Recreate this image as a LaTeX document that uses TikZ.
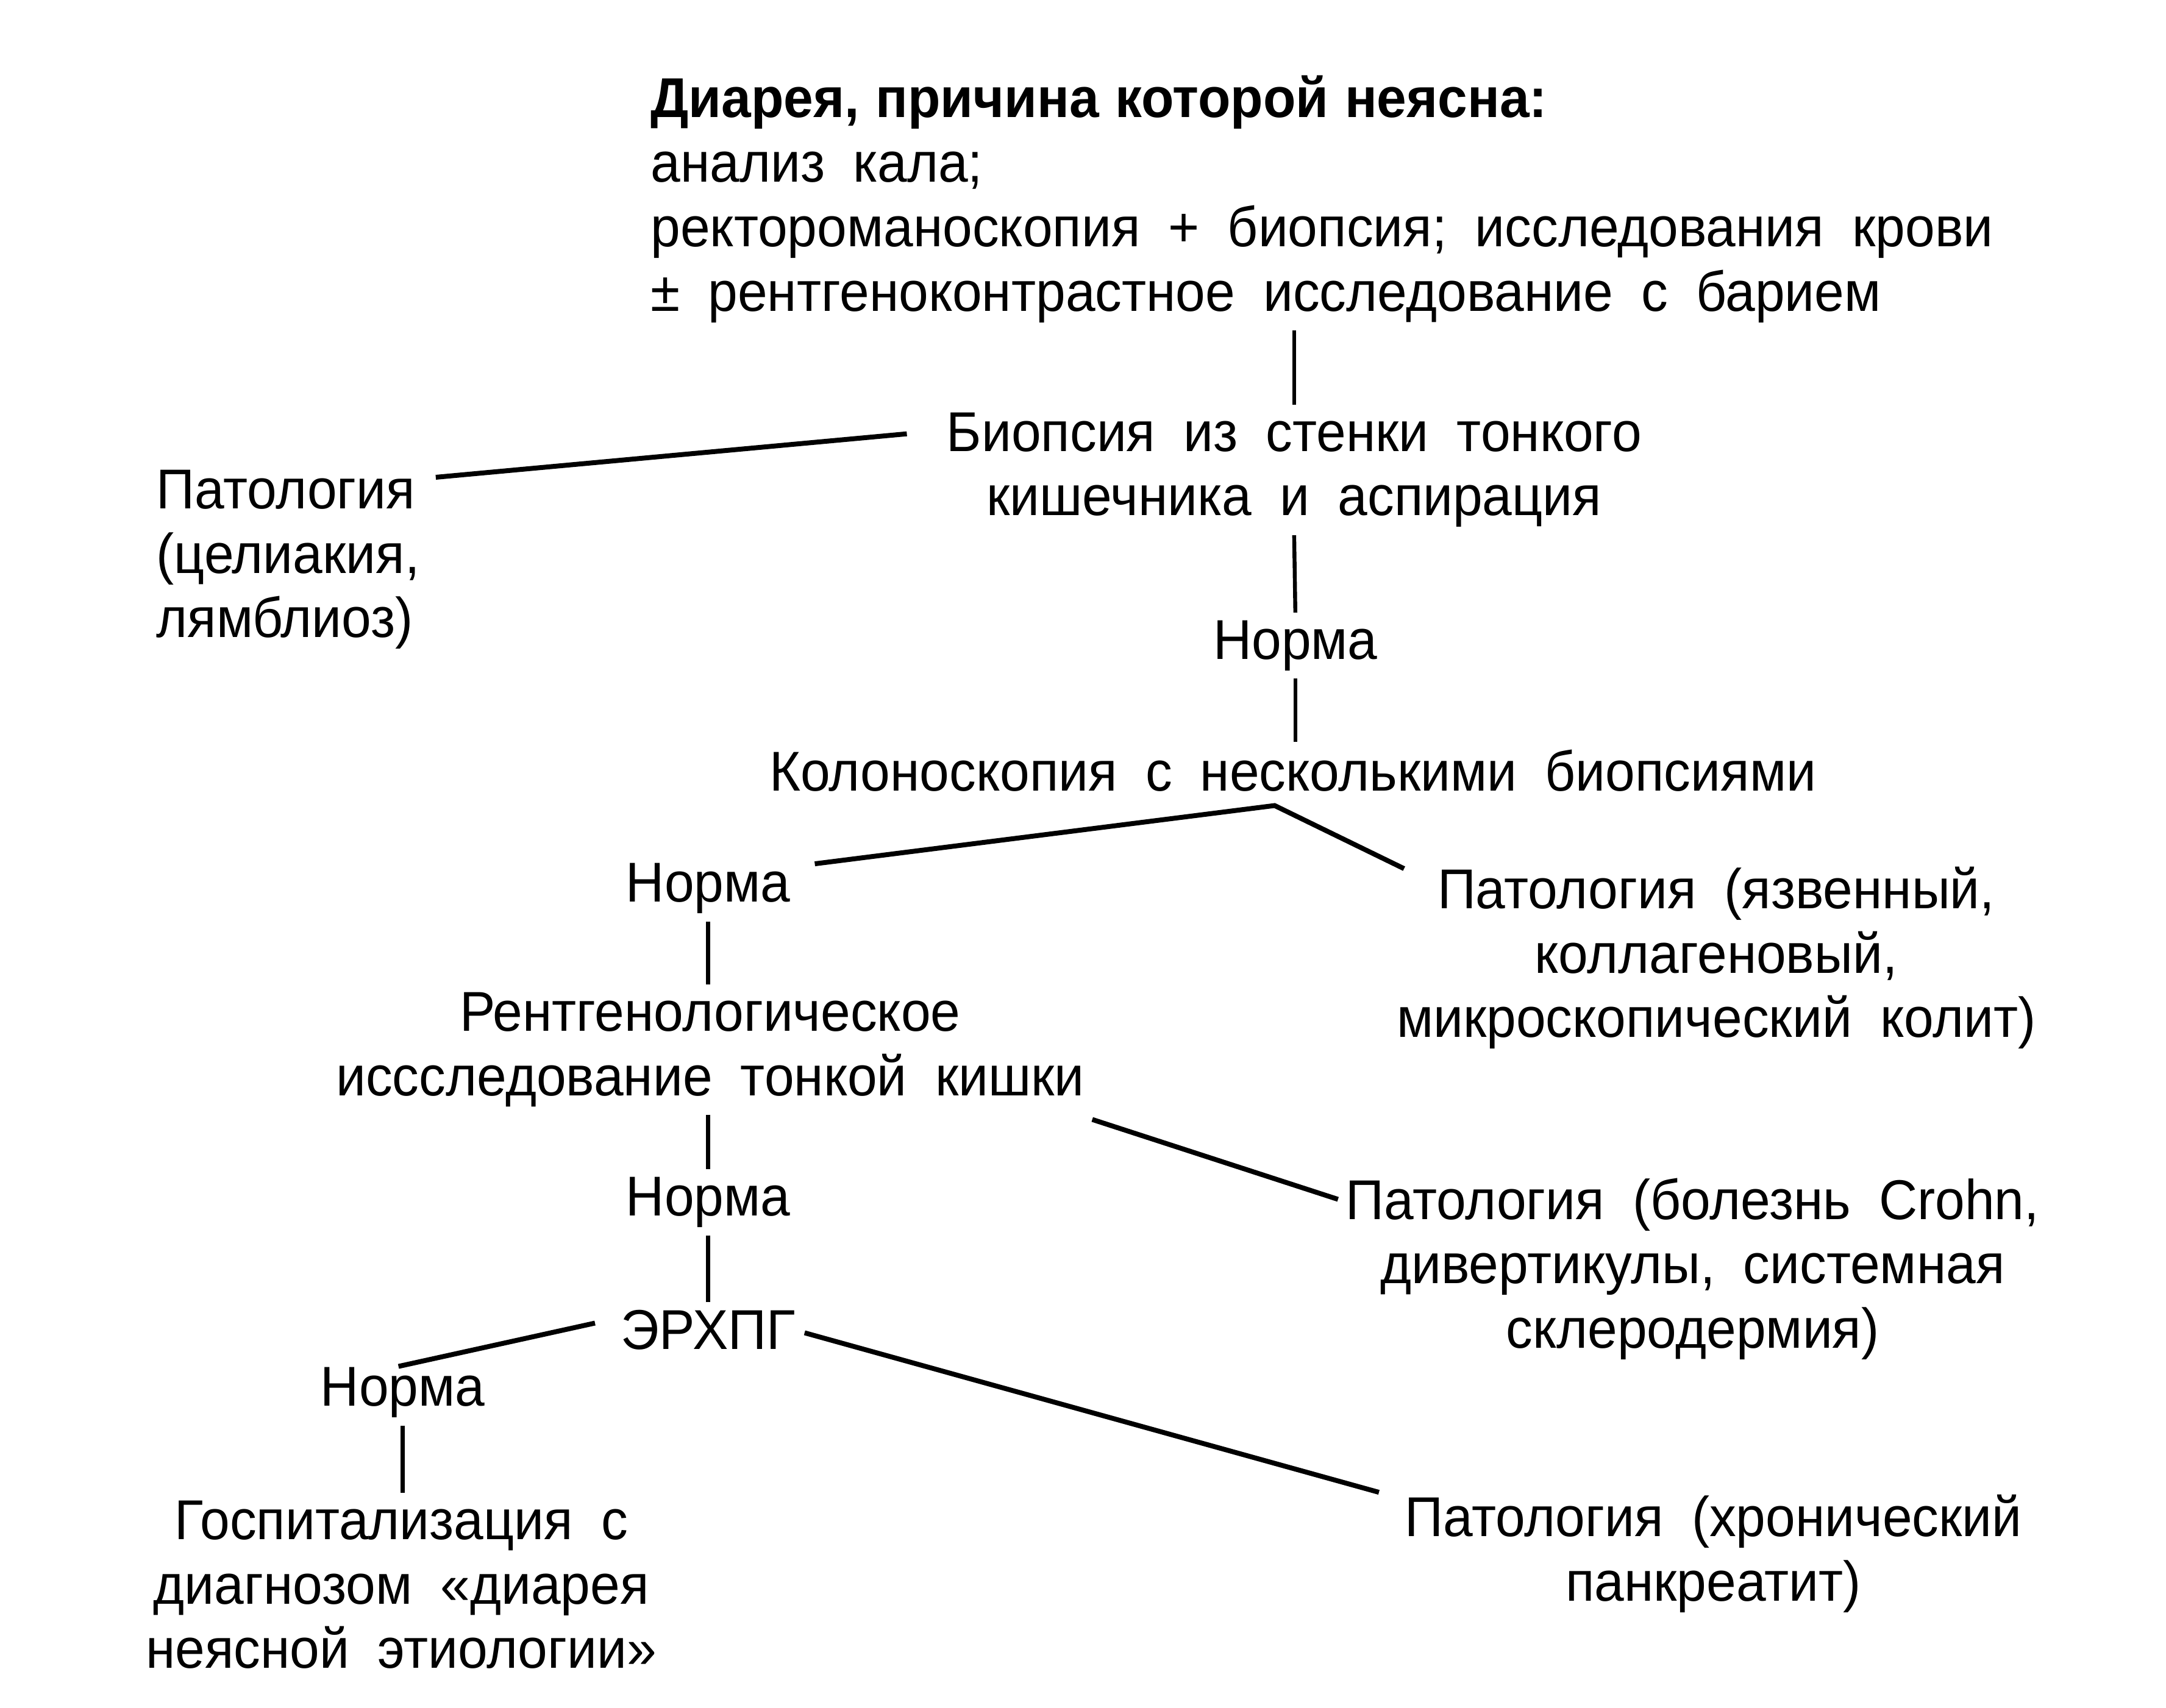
\documentclass[tikz,border=0pt]{standalone}
\usepackage{fontspec}
\setmainfont{Liberation Sans}[FakeStretch=0.95, WordSpace=1.9, BoldFeatures={WordSpace=1.1}]

\begin{document}
\begin{tikzpicture}[x=0.01cm, y=-0.01cm,
  every node/.style={inner sep=0pt, align=center, font=\fontsize{11.5}{13.2}\selectfont},
  link/.style={line width=1pt},
  vlink/.style={line width=0.8pt, shorten <=0.05cm, shorten >=0.05cm}]
\useasboundingbox (0,0) rectangle (1560,1230);

% main column
\node[anchor=west, align=left] (title) at (468,143.5) {\textbf{Диарея, причина которой неясна:}\\анализ кала;\\ректороманоскопия + биопсия; исследования крови\\± рентгеноконтрастное исследование с барием};
\node (biop) at (932,338.5) {Биопсия из стенки тонкого\\кишечника и аспирация};
\node[anchor=west, align=left] (pat1) at (112,403) {Патология\\(целиакия,\\лямблиоз)};
\node (norm1) at (933,465) {Норма};
\node (kolo) at (931,555) {Колоноскопия с несколькими биопсиями};
\node (norm2) at (510,640) {Норма};
\node (pat2) at (1236,690) {Патология (язвенный,\\коллагеновый,\\микроскопический колит)};
\node (rent) at (511.5,756) {Рентгенологическое\\иссследование тонкой кишки};
\node (norm3) at (510,866) {Норма};
\node (pat3) at (1219,914) {Патология (болезнь Crohn,\\дивертикулы, системная\\склеродермия)};
\node (erhpg) at (510,958) {ЭРХПГ};
\node (norm4) at (290,1003) {Норма};
\node (hosp) at (289,1141.5) {Госпитализация с\\диагнозом «диарея\\неясной этиологии»};
\node (pat4) at (1234,1119) {Патология (хронический\\панкреатит)};

% vertical links
\draw[vlink] (title.south -| biop.north) -- (biop.north);
\draw[vlink] (biop.south) -- (norm1.north);
\draw[vlink] (norm1.south) -- (kolo.north -| norm1.south);
\draw[vlink] (norm2.south) -- (rent.north -| norm2.south);
\draw[vlink] (rent.south -| norm3.north) -- (norm3.north);
\draw[vlink] (norm3.south) -- (erhpg.north -| norm3.south);
\draw[vlink] (norm4.south) -- (hosp.north -| norm4.south);

% branches
\draw[link] ([shift={(11,6)}]pat1.north east) -- ([shift={(-28,16)}]biop.north west);
\draw[link] ([shift={(17,1)}]norm2.north east) -- ([shift={(-13,9.5)}]kolo.south)
  -- ([shift={(6,2)}]pat2.north west);
\draw[link] ([shift={(5,8.5)}]rent.south east) -- ([shift={(-5,16)}]pat3.north west);
\draw[link] ([shift={(-18,-5)}]erhpg.west) -- ([shift={(-3,0)}]norm4.north);
\draw[link] ([shift={(6,2)}]erhpg.east) -- ([shift={(-18,-1)}]pat4.north west);
\end{tikzpicture}
\end{document}
